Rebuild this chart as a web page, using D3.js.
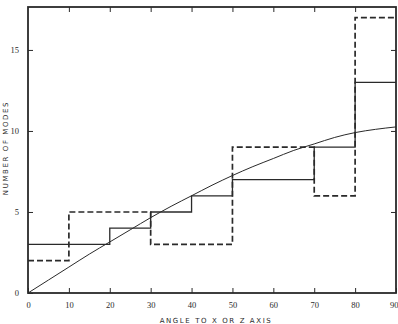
<!DOCTYPE html>
<html>
<head>
<meta charset="utf-8">
<script src="https://cdn.jsdelivr.net/npm/d3@7/dist/d3.min.js"></script>
<style>
  html, body { margin: 0; padding: 0; background: #fff; }
  svg { display: block; }
</style>
</head>
<body>
<svg id="chart" width="398" height="324"></svg>
<script>
// ---- data ----
const binEdges = [0, 10, 20, 30, 40, 50, 60, 70, 80, 90];
const solidCounts = [3, 3, 4, 5, 6, 7, 7, 9, 13];
const dashedCounts = [2, 5, 5, 3, 3, 9, 9, 6, 17];
const curveAngles = [0, 5, 10, 15, 20, 25, 30, 35, 40, 45, 50, 55, 60, 65, 70, 75, 80, 85, 90];
const curveValues = [0, 0.8, 1.6, 2.4, 3.15, 3.9, 4.65, 5.35, 6.0, 6.65, 7.25, 7.8, 8.3, 8.8, 9.2, 9.6, 9.9, 10.1, 10.25];
const xTicks = [0, 10, 20, 30, 40, 50, 60, 70, 80, 90];
const yTicks = [0, 5, 10, 15];
const xTitle = "ANGLE TO X OR Z AXIS";
const yTitle = "NUMBER OF MODES";

// ---- layout ----
const padL = 28, padR = 396, padT = 7, padB = 293;
const svg = d3.select("#chart");
const x = d3.scaleLinear().domain([0, 90]).range([padL, padR]);
const y = d3.scaleLinear().domain([0, 17.65]).range([padB, padT]);
const ink = "#2a2a2a";

// step data
function stepPoints(counts) {
  const pts = counts.map((c, i) => [binEdges[i], c]);
  pts.push([binEdges[binEdges.length - 1], counts[counts.length - 1]]);
  return pts;
}
const stepLine = d3.line().x(d => x(d[0])).y(d => y(d[1])).curve(d3.curveStepAfter);

// curve
const smooth = d3.line().x((d, i) => x(curveAngles[i])).y((d, i) => y(curveValues[i])).curve(d3.curveMonotoneX);
svg.append("path").datum(curveValues).attr("d", smooth)
  .attr("fill", "none").attr("stroke", ink).attr("stroke-width", 1);

// solid histogram
svg.append("path").datum(stepPoints(solidCounts)).attr("d", stepLine)
  .attr("fill", "none").attr("stroke", ink).attr("stroke-width", 1.3);

// dashed histogram
svg.append("path").datum(stepPoints(dashedCounts)).attr("d", stepLine)
  .attr("fill", "none").attr("stroke", ink).attr("stroke-width", 1.7)
  .attr("stroke-dasharray", "6,3");

// axes (ticks inward)
const tickFont = "'Liberation Serif', serif";
const axB = svg.append("g").attr("transform", `translate(0,${padB})`)
  .call(d3.axisBottom(x).tickValues(xTicks).tickSizeInner(-5).tickSizeOuter(0).tickPadding(9));
const axT = svg.append("g").attr("transform", `translate(0,${padT})`)
  .call(d3.axisTop(x).tickValues(xTicks.slice(1, -1)).tickSizeInner(-5).tickSizeOuter(0).tickFormat(""));
const axL = svg.append("g").attr("transform", `translate(${padL},0)`)
  .call(d3.axisLeft(y).tickValues(yTicks).tickSizeInner(-5).tickSizeOuter(0).tickPadding(9));
const axR = svg.append("g").attr("transform", `translate(${padR},0)`)
  .call(d3.axisRight(y).tickValues(yTicks.slice(1)).tickSizeInner(-5).tickSizeOuter(0).tickFormat(""));
[axB, axT, axL, axR].forEach(g => {
  g.select(".domain").remove();
  g.selectAll("line").attr("stroke", ink).attr("stroke-width", 1);
  g.selectAll("text").attr("fill", ink).style("font-family", tickFont).style("font-size", "8.5px");
});
// keep last x label inside the window
axB.selectAll(".tick").filter(d => d === 90).select("text")
  .attr("text-anchor", "end").attr("x", 2);

// frame
svg.append("rect").attr("x", padL).attr("y", padT)
  .attr("width", padR - padL).attr("height", padB - padT)
  .attr("fill", "none").attr("stroke", ink).attr("stroke-width", 1.8);

// titles
svg.append("text").attr("x", 216).attr("y", 323)
  .attr("text-anchor", "middle").attr("fill", ink)
  .style("font-family", "'DejaVu Sans', sans-serif").style("font-size", "7px")
  .style("letter-spacing", "1.6px").text(xTitle);
svg.append("text").attr("transform", `translate(8,148) rotate(-90)`)
  .attr("text-anchor", "middle").attr("fill", ink)
  .style("font-family", "'DejaVu Sans', sans-serif").style("font-size", "7px")
  .style("letter-spacing", "1.6px").text(yTitle);
</script>
</body>
</html>
